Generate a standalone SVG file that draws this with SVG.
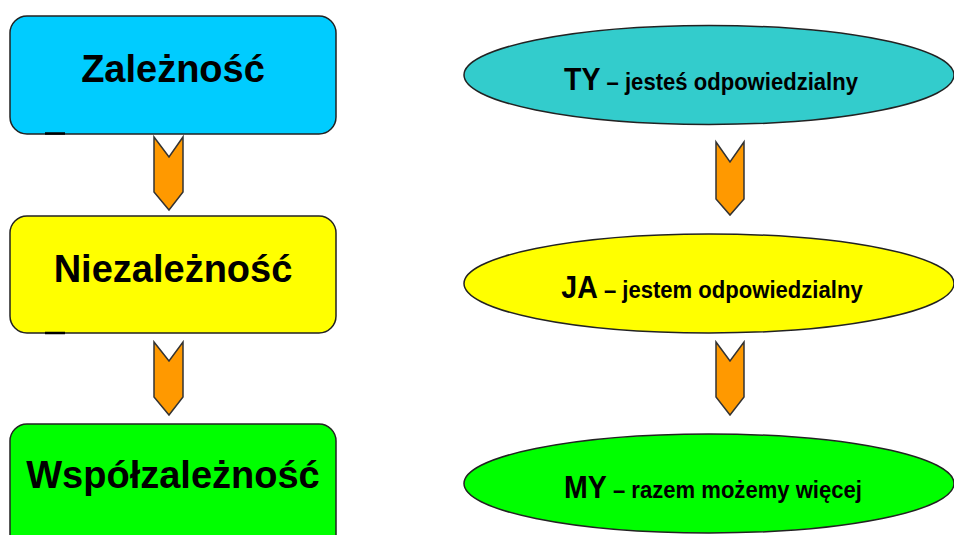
<svg xmlns="http://www.w3.org/2000/svg" width="954" height="535" viewBox="0 0 954 535">
<style>
.box{stroke:#222;stroke-width:1.5}
.ell{stroke:#222;stroke-width:1.5}
.arr{fill:#FF9900;stroke:#333;stroke-width:1.5;stroke-linejoin:miter}
.big{font-family:"Liberation Sans",Arial,sans-serif;font-weight:bold;font-size:38px;fill:#000;text-anchor:middle}
.lbl{font-family:"Liberation Sans",Arial,sans-serif;font-weight:bold;fill:#000;text-anchor:middle}
.cap{font-size:31px}
.sub{font-size:24px}
.tick{stroke:#000;stroke-width:2.5}
</style>
<rect width="954" height="535" fill="#fff"/>
<g id="zaleznosc">
<rect class="box" x="10" y="16" width="326" height="118" rx="17" fill="#00CCFF"/>
<line class="tick" x1="45" y1="133.5" x2="65" y2="133.5"/>
<text class="big" x="173" y="82">Zależność</text>
</g>
<g id="niezaleznosc">
<rect class="box" x="10" y="216" width="326" height="117" rx="17" fill="#FFFF00"/>
<line class="tick" x1="45" y1="333" x2="65" y2="333"/>
<text class="big" x="173" y="282">Niezależność</text>
</g>
<g id="wspolzaleznosc">
<rect class="box" x="10" y="424" width="326" height="140" rx="17" fill="#00FF00"/>
<text class="big" x="173" y="488">Współzależność</text>
</g>
<g id="ty">
<ellipse class="ell" cx="709" cy="75" rx="245" ry="49.5" fill="#33CCCC"/>
<text class="lbl" transform="translate(711,90) scale(0.92,1)"><tspan class="cap">TY</tspan><tspan class="sub"> – jesteś odpowiedzialny</tspan></text>
</g>
<g id="ja">
<ellipse class="ell" cx="709" cy="283.5" rx="245" ry="49.5" fill="#FFFF00"/>
<text class="lbl" transform="translate(712,298) scale(0.92,1)"><tspan class="cap">JA</tspan><tspan class="sub"> – jestem odpowiedzialny</tspan></text>
</g>
<g id="my">
<ellipse class="ell" cx="709" cy="483.5" rx="245" ry="49.5" fill="#00FF00"/>
<text class="lbl" transform="translate(713,498) scale(0.92,1)"><tspan class="cap">MY</tspan><tspan class="sub"> – razem możemy więcej</tspan></text>
</g>
<g id="connectors">
<polygon class="arr" points="154,137 169,157 183,137 183,192 169,210 154,192"/>
<polygon class="arr" points="154,342 169,361 183,342 183,397 169,415 154,397"/>
<polygon class="arr" points="716,142 730,162 744,142 744,199 730,215 716,199"/>
<polygon class="arr" points="716,342 730,361 744,342 744,397 730,415 716,397"/>
</g>
</svg>
